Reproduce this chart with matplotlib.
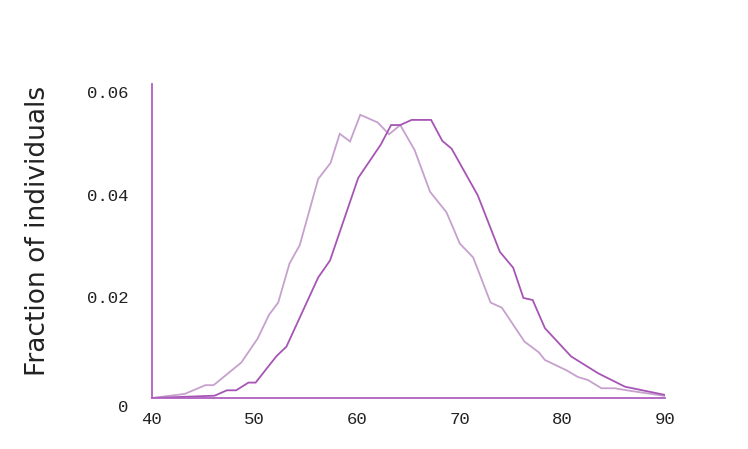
import matplotlib
matplotlib.use("Agg")
import matplotlib.pyplot as plt
import matplotlib.transforms as mtransforms

age_light = [40, 43.2, 45.2, 46.0, 48.7, 50.3, 51.4, 52.3, 53.4, 54.4, 56.2, 57.4,
             58.3, 59.3, 60.3, 62.0, 63.1, 64.2, 65.6, 67.1, 68.7, 70.0, 71.3, 73.0,
             74.1, 76.3, 77.7, 78.3, 80.4, 81.5, 82.5, 83.8, 85.1, 86.6, 90]
frac_light = [0, 0.0008, 0.0025, 0.0025, 0.0069, 0.0116, 0.0162, 0.0186, 0.0262,
              0.0298, 0.0427, 0.0458, 0.0515, 0.0500, 0.0552, 0.0537, 0.0514, 0.0532,
              0.0483, 0.0402, 0.0362, 0.0301, 0.0274, 0.0186, 0.0176, 0.0110, 0.0089,
              0.0074, 0.0054, 0.0041, 0.0035, 0.0019, 0.0019, 0.0014, 0.0004]

age_dark = [40, 46.1, 47.3, 48.2, 49.4, 50.1, 51.2, 52.15, 53.1, 56.2, 57.35, 60.1,
            62.3, 63.3, 64.2, 65.3, 67.2, 68.3, 69.2, 71.75, 73.9, 75.2, 76.2, 77.1,
            78.3, 80.85, 83.5, 86.1, 90]
frac_dark = [0, 0.00045, 0.0015, 0.0015, 0.0030, 0.0030, 0.0058, 0.0082, 0.0100,
             0.0235, 0.0268, 0.0429, 0.0494, 0.0532, 0.0532, 0.0542, 0.0542, 0.0501,
             0.0486, 0.0395, 0.0285, 0.0254, 0.0195, 0.0191, 0.0136, 0.0081, 0.0048,
             0.0022, 0.0006]

x_ticks = [40, 50, 60, 70, 80, 90]
y_ticks = [0, 0.02, 0.04, 0.06]
y_tick_labels = ["0", "0.02", "0.04", "0.06"]

light_color = "#c6a1cd"
dark_color = "#a655b4"
axis_color = "#b060c0"

fig = plt.figure(figsize=(7.48, 4.49), dpi=100)
ax = fig.add_axes([152 / 748, 1 - 398 / 449, (665 - 152) / 748, (398 - 84) / 449])

ax.plot(age_light, frac_light, color=light_color, lw=1.3, solid_joinstyle="miter")
ax.plot(age_dark, frac_dark, color=dark_color, lw=1.3, solid_joinstyle="miter")

ax.set_xlim(40, 90)
ax.set_ylim(0, 0.0612)
ax.set_xticks(x_ticks)
ax.set_yticks(y_ticks)
ax.set_yticklabels(y_tick_labels)

for s in ["top", "right"]:
    ax.spines[s].set_visible(False)
for s in ["left", "bottom"]:
    ax.spines[s].set_color(axis_color)
    ax.spines[s].set_linewidth(1.3)

ax.tick_params(length=0, labelsize=12.5, colors="#222222")
ax.tick_params(axis="y", pad=17)
ax.tick_params(axis="x", pad=10)
for lab in ax.get_xticklabels() + ax.get_yticklabels():
    lab.set_family("Liberation Mono")

# nudge y labels slightly down, the zero label more
ylabs = ax.get_yticklabels()
for i, lab in enumerate(ylabs):
    dy = -6 / 72 if i == 0 else -1.5 / 72
    lab.set_transform(lab.get_transform() + mtransforms.ScaledTranslation(0, dy, fig.dpi_scale_trans))

ax.set_ylabel("Fraction of individuals", fontsize=19, family="DejaVu Sans",
              color="#222222", labelpad=26, y=0.532)

fig.savefig("out.png", dpi=100)
